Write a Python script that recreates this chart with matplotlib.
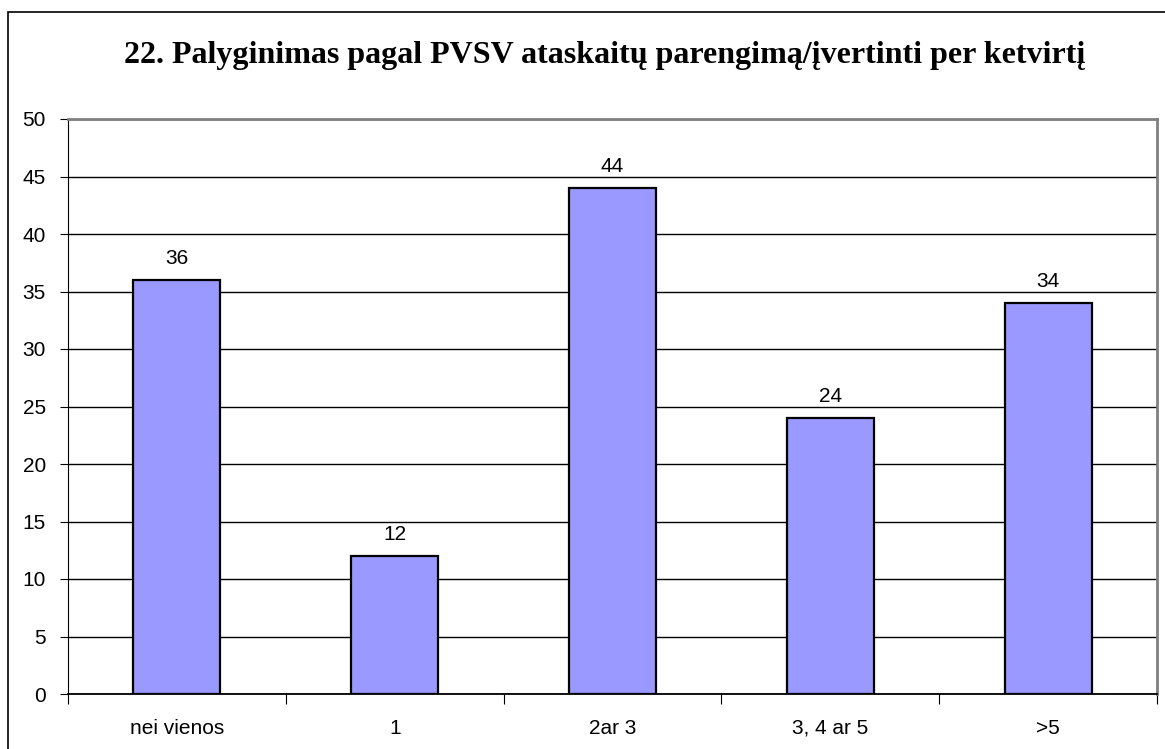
import matplotlib
matplotlib.use("Agg")
import matplotlib.pyplot as plt
from matplotlib.patches import Rectangle

## Data ----------------------
categories = ["nei vienos", "1", "2ar 3", "3, 4 ar 5", ">5"]
values = [36, 12, 44, 24, 34]
title = "22. Palyginimas pagal PVSV ataskaitų parengimą/įvertinti per ketvirtį"

## Plot ----------------------
W, H = 1165, 749
fig = plt.figure(figsize=(W / 100, H / 100), dpi=100)
fig.patch.set_facecolor("white")

# outer chart border (cut off on the right and bottom)
fig.patches.append(Rectangle((7.5 / W, -0.05), 1.2, 1 - 12 / H + 0.05,
                             transform=fig.transFigure, fill=False,
                             edgecolor="black", linewidth=1.2))

ax = fig.add_axes([68 / W, 1 - 694 / H, (1157 - 68) / W, (694 - 119) / H])
x = range(len(categories))
ax.bar(x, values, width=0.40, color="#9999FF", edgecolor="black",
       linewidth=1.6, zorder=3)

for xi, v in zip(x, values):
    ax.annotate(str(v), (xi, v), xytext=(0, 11.5), textcoords="offset points",
                ha="center", va="baseline", fontsize=15,
                family="Liberation Sans")

ax.set_xlim(-0.5, len(categories) - 0.5)
ax.set_ylim(0, 50)
ax.set_yticks(range(0, 51, 5))
ax.yaxis.grid(True, color="black", linewidth=1, zorder=0)
ax.set_axisbelow(True)

# ticks between categories, labels centred under bars
ax.set_xticks([i + 0.5 for i in range(-1, len(categories))])
ax.set_xticklabels([])
ax.set_xticks(list(x), minor=True)
ax.set_xticklabels(categories, minor=True)
ax.tick_params(axis="x", which="major", length=7, color="black", direction="out")
ax.tick_params(axis="x", which="minor", length=0, pad=18)
ax.tick_params(axis="y", length=6, color="black", pad=10)
for lbl in ax.get_xticklabels(minor=True) + ax.get_yticklabels():
    lbl.set_family("Liberation Sans")
    lbl.set_fontsize(15)

for s in ["top", "right"]:
    ax.spines[s].set_color("#808080")
    ax.spines[s].set_linewidth(2)
ax.spines["left"].set_color("black")
ax.spines["bottom"].set_color("black")
ax.spines["bottom"].set_linewidth(1.3)

fig.text(605 / W, 1 - 56 / H, title, ha="center", va="center",
         family="Liberation Serif", fontweight="bold", fontsize=23)

fig.savefig("out.png", dpi=100)
